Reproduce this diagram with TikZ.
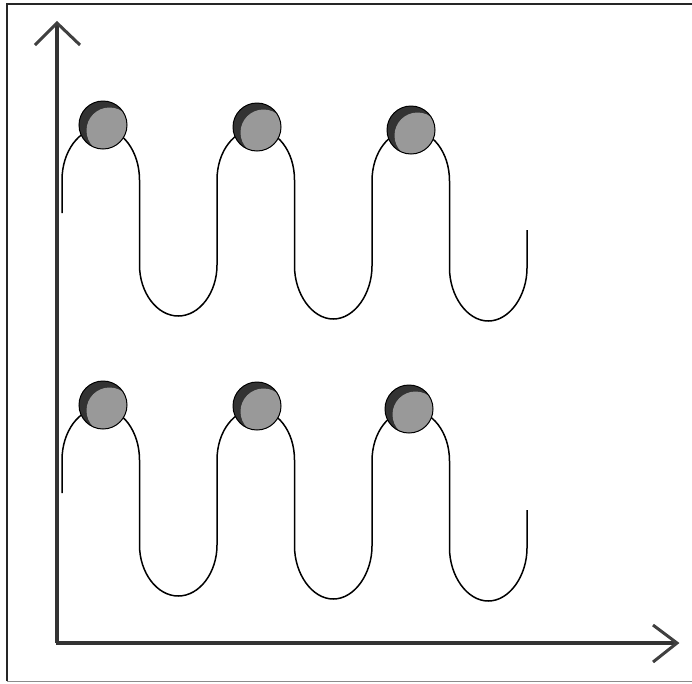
\documentclass[tikz,border=0pt]{standalone}
\begin{document}
\begin{tikzpicture}[x=1pt,y=-1pt,
  frame/.style={draw=black!85, line width=2pt},
  axisline/.style={draw=black!80, line width=3.2pt},
  axishead/.style={draw=black!75, line width=3pt, line join=miter},
  wave/.style={draw=black, line width=1.5pt},
  ball/.style={circle, draw=black, line width=1pt, minimum size=48pt, inner sep=0pt,
    fill=black!80,
    path picture={\fill[black!40] ([shift={(6.5pt,-5.5pt)}]path picture bounding box.center) circle (23pt);}}
]
\useasboundingbox (0,0) rectangle (692,683);
% frame (top, left, bottom)
\draw[frame] (692,3.5) -- (6.5,3.5) -- (6.5,681);
\draw[draw=black!45, line width=1pt] (6.5,681) -- (692,681);

% axes
\coordinate (O) at (57,643);
\coordinate (ytip) at (57,23);
\coordinate (xtip) at (677,643);
\draw[axisline] (O) -- (ytip);
\draw[axisline] ([shift={(-1.5pt,0pt)}]O) -- ([shift={(-2pt,0pt)}]xtip);
\draw[axishead] ([shift={(-22pt,-22pt)}]ytip) -- (ytip) -- ([shift={(23pt,-22pt)}]ytip);
\draw[axishead] ([shift={(-24pt,18pt)}]xtip) -- (xtip) -- ([shift={(-24pt,-19pt)}]xtip);

% waves
\foreach \dy in {0,280}{
\begin{scope}[yshift=-\dy pt]
\draw[wave] (62,213) -- (62,180)
  .. controls (62,151.3) and (79.25,128) .. (100.75,128)
  .. controls (122.25,128) and (139.5,151.3) .. (139.5,180)
  -- (139.5,265)
  .. controls (139.5,292.6) and (156.9,316) .. (178.25,316)
  .. controls (199.6,316) and (217,292.6) .. (217,265)
  -- (217,180)
  .. controls (217,151.3) and (234.25,129) .. (255.75,129)
  .. controls (277.25,129) and (294.5,151.3) .. (294.5,180)
  -- (294.5,266)
  .. controls (294.5,293.6) and (311.9,319) .. (333.25,319)
  .. controls (354.6,319) and (372,293.6) .. (372,266)
  -- (372,181)
  .. controls (372,152.3) and (389.25,130) .. (410.75,130)
  .. controls (432.25,130) and (449.5,152.3) .. (449.5,181)
  -- (449.5,268)
  .. controls (449.5,295.6) and (466.9,321) .. (488.25,321)
  .. controls (509.6,321) and (527,295.6) .. (527,268)
  -- (527,230);
\end{scope}
}

% balls
\node[ball] (u1) at (103,125) {};
\node[ball] (u2) at (257,127) {};
\node[ball] (u3) at (411,130) {};
\node[ball] (l1) at (103,405) {};
\node[ball] (l2) at (257,406) {};
\node[ball] (l3) at (409,409) {};
\end{tikzpicture}
\end{document}
